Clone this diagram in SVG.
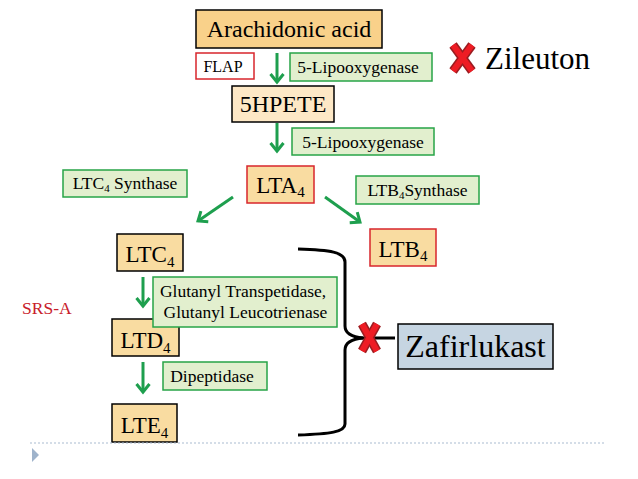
<svg xmlns="http://www.w3.org/2000/svg" width="638" height="479" viewBox="0 0 638 479" font-family="'Liberation Serif', 'Times New Roman', 'DejaVu Serif', serif">
<defs>
<marker id="ah" markerUnits="userSpaceOnUse" markerWidth="20" markerHeight="20" refX="10" refY="10" orient="auto" viewBox="0 0 20 20">
<path d="M2,3.5 L10,10 L2,16.5" fill="none" stroke="#1E9F4E" stroke-width="3" stroke-linejoin="miter"/>
</marker>
</defs>
<style>
text{font-family:'Liberation Serif','Times New Roman','DejaVu Serif',serif;fill:#000}
.big{font-size:24px}
.lt{font-size:23px}
.sm{font-size:17.5px}
.orange{fill:#F9D18A;stroke:#000;stroke-width:1.5}
.lto{fill:#F9DCA1;stroke:#000;stroke-width:1.5}
.cream{fill:#FDE8C6;stroke:#000;stroke-width:1.5}
.creamr{fill:#F9DCA1;stroke:#D8262C;stroke-width:1.5}
.green{fill:#E2EFCE;stroke:#27A447;stroke-width:1.5}
.red{fill:#fff;stroke:#D8262C;stroke-width:1.5}
.arr{stroke:#1E9F4E;stroke-width:3;fill:none;marker-end:url(#ah)}
.xo{stroke:#9A1C20;stroke-width:9;stroke-linecap:butt}
.xi{stroke:#EE1C24;stroke-width:6;stroke-linecap:butt}
</style>

<g id="connectors">
<line class="arr" x1="277" y1="53" x2="277" y2="82"/>
<line class="arr" x1="277" y1="123" x2="277" y2="151"/>
<line class="arr" x1="233" y1="197" x2="198" y2="221"/>
<line class="arr" x1="325" y1="197" x2="360" y2="222"/>
<line class="arr" x1="143" y1="277" x2="143" y2="306"/>
<line class="arr" x1="143" y1="362" x2="143" y2="392"/>
</g>

<g id="arachidonic">
<rect class="orange" x="196" y="10" width="186" height="38"/>
<text class="big" x="289" y="37" text-anchor="middle">Arachidonic acid</text>
</g>
<g id="flap">
<rect class="red" x="196" y="53" width="58" height="26"/>
<text x="223" y="72" text-anchor="middle" font-size="16">FLAP</text>
</g>
<g id="lipo1">
<rect class="green" x="290" y="53" width="142" height="28"/>
<text class="sm" x="358" y="73" text-anchor="middle">5-Lipooxygenase</text>
</g>
<g id="hpete">
<rect class="cream" x="232" y="86" width="102" height="36"/>
<text class="big" x="283" y="112" text-anchor="middle">5HPETE</text>
</g>
<g id="lipo2">
<rect class="green" x="292" y="128" width="142" height="27"/>
<text class="sm" x="363" y="147.5" text-anchor="middle">5-Lipooxygenase</text>
</g>
<g id="zileuton">
<line class="xo" x1="453" y1="45" x2="472" y2="71"/>
<line class="xo" x1="472" y1="45" x2="453" y2="71"/>
<line class="xi" x1="453" y1="45" x2="472" y2="71"/>
<line class="xi" x1="472" y1="45" x2="453" y2="71"/>
<text x="485" y="69" font-size="31">Zileuton</text>
</g>
<g id="lta4">
<rect class="creamr" x="247" y="166" width="67" height="37"/>
<text class="lt" x="280.5" y="193" text-anchor="middle">LTA<tspan font-size="15" dy="4">4</tspan></text>
</g>
<g id="ltc4synthase">
<rect class="green" x="63" y="170" width="124" height="27"/>
<text class="sm" x="125" y="189" text-anchor="middle">LTC<tspan font-size="11" dy="3">4</tspan><tspan dy="-3"> Synthase</tspan></text>
</g>
<g id="ltb4synthase">
<rect class="green" x="356" y="176" width="123" height="28"/>
<text class="sm" x="417.5" y="196" text-anchor="middle">LTB<tspan font-size="11" dy="3">4</tspan><tspan dy="-3">Synthase</tspan></text>
</g>
<g id="ltb4">
<rect class="creamr" x="370" y="229" width="66" height="37"/>
<text class="lt" x="403" y="257" text-anchor="middle">LTB<tspan font-size="15" dy="4">4</tspan></text>
</g>
<g id="ltc4">
<rect class="lto" x="117" y="234" width="66" height="37"/>
<text class="lt" x="150" y="262" text-anchor="middle">LTC<tspan font-size="15" dy="5">4</tspan></text>
</g>
<g id="ltd4">
<rect class="lto" x="112" y="319" width="67" height="37"/>
<text class="lt" x="145.5" y="348" text-anchor="middle">LTD<tspan font-size="15" dy="5">4</tspan></text>
</g>
<g id="glutanyl">
<rect class="green" x="153" y="277" width="184" height="50"/>
<text class="sm" x="243" y="297" text-anchor="middle">Glutanyl Transpetidase,</text>
<text class="sm" x="245.5" y="318" text-anchor="middle">Glutanyl Leucotrienase</text>
</g>
<g id="dipeptidase">
<rect class="green" x="163" y="362" width="104" height="28"/>
<text class="sm" x="212" y="382" text-anchor="middle">Dipeptidase</text>
</g>
<g id="lte4">
<rect class="lto" x="112" y="404" width="65" height="38"/>
<text class="lt" x="144.5" y="433" text-anchor="middle">LTE<tspan font-size="15" dy="5">4</tspan></text>
</g>
<g id="srsa">
<text class="sm" x="22" y="314" style="fill:#C8202A">SRS-A</text>
</g>
<g id="brace">
<path d="M298,249 C330,250 345,252 345,262 L345,326 C345,334 352,337 363,338 C352,339 345,342 345,350 L345,424 C345,432 330,434 298,435" fill="none" stroke="#000" stroke-width="3"/>
<line x1="360" y1="338" x2="395" y2="338" stroke="#000" stroke-width="3"/>
</g>
<g id="zafirlukast">
<line class="xo" x1="362" y1="324" x2="377" y2="351"/>
<line class="xo" x1="377" y1="324" x2="362" y2="351"/>
<line class="xi" x1="362" y1="324" x2="377" y2="351"/>
<line class="xi" x1="377" y1="324" x2="362" y2="351"/>
<rect x="398" y="324" width="155" height="45" fill="#C6D5E2" stroke="#000" stroke-width="1.5"/>
<text x="475.5" y="357" text-anchor="middle" font-size="32">Zafirlukast</text>
</g>
<g id="footer">
<line x1="30" y1="443" x2="605" y2="443" stroke="#A9BBD0" stroke-width="1" stroke-dasharray="2,2"/>
<polygon points="32,448 39,455 32,462" fill="#9FB3CB"/>
</g>
</svg>
